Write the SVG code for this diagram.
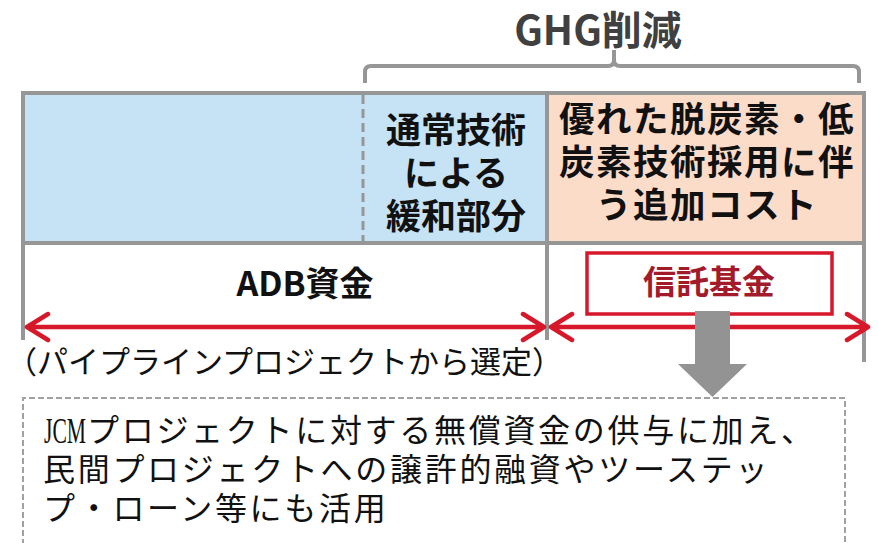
<svg xmlns="http://www.w3.org/2000/svg" width="878" height="543" viewBox="0 0 878 543">
<defs>
<style>
.jp{font-family:"Noto Sans CJK JP","Noto Sans",sans-serif;}
.b{font-weight:bold;}
.frame{fill:none;stroke:#969696;stroke-width:4;}
.red{fill:none;stroke:#D7172A;stroke-width:4.5;stroke-linecap:round;stroke-linejoin:round;}
</style>
</defs>
<rect width="878" height="543" fill="#FFFFFF"/>
<g id="title">
<text class="jp b" x="598" y="45" font-size="40" fill="#404040" text-anchor="middle">GHG削減</text>
</g>
<g id="bracket">
<path class="frame" d="M365,83 V72 Q365,66 371,66 H608 Q614,66 614,60 V50 M614,60 Q614,66 620,66 H853 Q859,66 859,72 V83"/>
</g>
<g id="conventional">
<rect x="23" y="93" width="524" height="150" fill="#C5E3F4"/>
<line x1="363" y1="95" x2="363" y2="243" stroke="#969696" stroke-width="3" stroke-dasharray="9,5"/>
<text class="jp b" font-size="35" fill="#111" text-anchor="middle"><tspan x="456" y="143">通常技術</tspan><tspan x="456" y="186">による</tspan><tspan x="456" y="229">緩和部分</tspan></text>
</g>
<g id="additional-cost">
<rect x="547" y="93" width="317" height="150" fill="#FBDCC9"/>
<text class="jp b" font-size="35.5" letter-spacing="1.5" fill="#111" text-anchor="middle"><tspan x="707" y="132">優れた脱炭素・低</tspan><tspan x="707" y="175">炭素技術採用に伴</tspan><tspan x="707" y="218">う追加コスト</tspan></text>
</g>
<g id="frame">
<path class="frame" d="M23,340 V93 H864 V362 M547,93 V340 M23,243 H864"/>
</g>
<g id="adb">
<text class="jp b" x="305" y="296" font-size="34" fill="#111" text-anchor="middle">ADB資金</text>
<text class="jp" x="6" y="373" font-size="31" fill="#111">（パイプラインプロジェクトから選定）</text>
</g>
<g id="trust-fund">
<rect x="587" y="253" width="245" height="61" fill="#FFFFFF" stroke="#D7172A" stroke-width="3.5"/>
<text class="jp b" x="709" y="294" font-size="33" fill="#A31A2A" text-anchor="middle">信託基金</text>
</g>
<g id="connectors">
<path class="red" d="M27,327 H544 M48,314 L27,327 L48,340 M523,314 L544,327 L523,340"/>
<path class="red" d="M551,327 H868 M572,314 L551,327 L572,340 M847,314 L868,327 L847,340"/>
<path d="M695,311 H730 V364 H747 L712.5,397 L678,364 H695 Z" fill="#939393"/>
</g>
<g id="usage">
<path d="M23,545 V398 H845 V545" fill="none" stroke="#A0A0A0" stroke-width="2" stroke-dasharray="6,3"/>
<text x="44" y="443" font-family="Liberation Serif, serif" font-size="35" fill="#111" textLength="42" lengthAdjust="spacingAndGlyphs">JCM</text>
<text class="jp" font-size="32" letter-spacing="2.7" fill="#111"><tspan x="87" y="442">プロジェクトに対する無償資金の供与に加え、</tspan><tspan x="43" y="481">民間プロジェクトへの譲許的融資やツーステッ</tspan><tspan x="43" y="520">プ・ローン等にも活用</tspan></text>
</g>
</svg>
